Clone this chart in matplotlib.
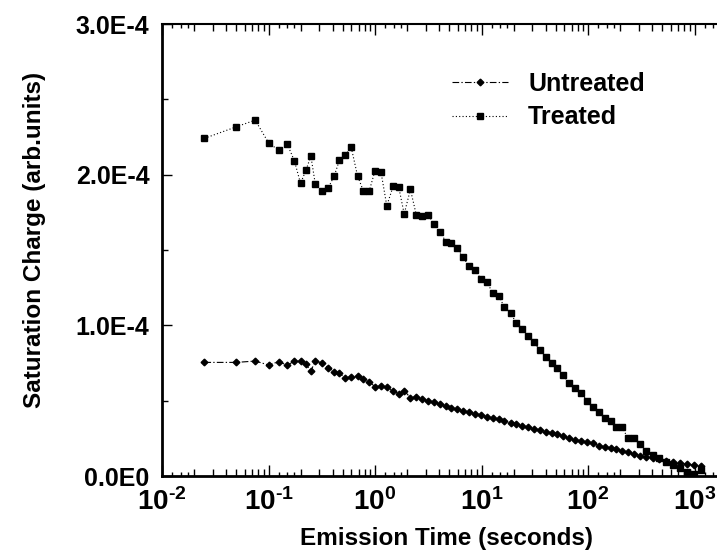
import numpy as np
import matplotlib
matplotlib.use("Agg")
import matplotlib.pyplot as plt
from matplotlib.ticker import FixedLocator, FixedFormatter, NullFormatter

# ---- data -------------------------------------------------------------
emission_time = [0.025, 0.05, 0.075, 0.1, 0.125, 0.15, 0.175, 0.2, 0.225, 0.25, 0.275,
                 0.315, 0.364, 0.414, 0.464, 0.522, 0.598, 0.685, 0.776, 0.884,
                 1.0, 1.14, 1.29, 1.48, 1.67, 1.88, 2.15, 2.44, 2.77, 3.15, 3.58, 4.08,
                 4.64, 5.17, 5.95, 6.66, 7.68, 8.69, 9.89,
                 11.3, 12.7, 14.6, 16.3, 18.8, 21.1, 24.2, 27.5, 31.1, 35.4, 40.1, 45.6,
                 50.8, 58.6, 66.3, 75.5, 86.0, 98.5,
                 111, 127, 144, 163, 183, 208, 238, 270, 310, 354, 405, 467, 540, 628,
                 731, 851, 990, 1150]

# saturation charge, in units of 1e-4
untreated = [0.754, 0.754, 0.763, 0.737, 0.759, 0.735, 0.763, 0.761, 0.741, 0.697, 0.763,
             0.752, 0.719, 0.692, 0.681, 0.652, 0.657, 0.666, 0.644, 0.624,
             0.593, 0.595, 0.590, 0.564, 0.546, 0.566, 0.520, 0.525, 0.510, 0.499, 0.489,
             0.478, 0.465, 0.453, 0.443, 0.431, 0.423, 0.413, 0.405,
             0.393, 0.385, 0.376, 0.365, 0.354, 0.345, 0.332, 0.323, 0.314, 0.305, 0.294,
             0.287, 0.279, 0.265, 0.250, 0.239, 0.232, 0.226,
             0.217, 0.201, 0.194, 0.184, 0.177, 0.168, 0.157, 0.146, 0.135, 0.128, 0.119,
             0.111, 0.100, 0.090, 0.085, 0.078, 0.072, 0.066]

treated = [2.241, 2.318, 2.362, 2.212, 2.161, 2.203, 2.092, 1.942, 2.031, 2.123, 1.938,
           1.893, 1.913, 1.991, 2.097, 2.128, 2.181, 1.993, 1.893, 1.893,
           2.026, 2.015, 1.794, 1.922, 1.918, 1.739, 1.902, 1.734, 1.723, 1.734, 1.672,
           1.619, 1.555, 1.546, 1.515, 1.451, 1.395, 1.365, 1.307,
           1.285, 1.216, 1.194, 1.123, 1.082, 1.017, 0.977, 0.929, 0.887, 0.836, 0.792,
           0.752, 0.719, 0.670, 0.615, 0.582, 0.549, 0.500,
           0.460, 0.427, 0.383, 0.367, 0.322, 0.322, 0.252, 0.252, 0.212, 0.165, 0.139,
           0.117, 0.095, 0.070, 0.050, 0.025, 0.010, 0.040]

charge_scale = 1e-4
y_ticks = [0.0, 1.0e-4, 2.0e-4, 3.0e-4]
y_tick_labels = ["0.0E0", "1.0E-4", "2.0E-4", "3.0E-4"]
x_decades = [-2, -1, 0, 1, 2, 3]

# ---- style ------------------------------------------------------------
plt.rcParams["font.family"] = ["Liberation Sans", "DejaVu Sans"]
plt.rcParams["font.weight"] = "bold"
plt.rcParams["mathtext.fontset"] = "custom"
plt.rcParams["mathtext.rm"] = "Liberation Sans:bold"
plt.rcParams["mathtext.it"] = "Liberation Sans:bold"
plt.rcParams["mathtext.bf"] = "Liberation Sans:bold"
plt.rcParams["mathtext.default"] = "rm"

fig = plt.figure(figsize=(7.17, 5.58), dpi=100)
W, H = 717, 558
ax_left, ax_right, ax_top, ax_bottom = 162, 717, 24, 476
ax = fig.add_axes([ax_left / W, 1 - ax_bottom / H,
                   (ax_right - ax_left) / W, (ax_bottom - ax_top) / H])

t = np.array(emission_time)
ax.plot(t, np.array(untreated) * charge_scale, color="black", lw=0.8,
        linestyle=(0, (6, 2, 1.2, 2)), marker="D", ms=3.4, mec="black", mfc="black",
        label="Untreated")
ax.plot(t, np.array(treated) * charge_scale, color="black", lw=0.8,
        linestyle=(0, (1, 2)), marker="s", ms=4.4, mec="black", mfc="black",
        label="Treated")

ax.set_xscale("log")
decade_px = 106.5
ax.set_xlim(1e-2, 10 ** (-2 + (ax_right - ax_left) / decade_px))
ax.set_ylim(0, 3.0e-4)

# x ticks: decades, 2..9 and the fine 1.25/1.5/1.75 subdivisions
major = [10.0 ** d for d in x_decades]
minor = [m * 10.0 ** d for d in x_decades for m in range(2, 10)]
fine = [m * 10.0 ** d for d in x_decades for m in (1.25, 1.5, 1.75)]
ax.xaxis.set_major_locator(FixedLocator(major))
ax.xaxis.set_major_formatter(
    FixedFormatter([r"$10^{\text{%d}}$" % d for d in x_decades]))
ax.xaxis.set_minor_locator(FixedLocator(minor))
ax.xaxis.set_minor_formatter(NullFormatter())
ax.tick_params(axis="x", which="major", direction="in", length=8, width=1.0,
               top=True, bottom=True, labelsize=20, pad=9)
ax.tick_params(axis="x", which="minor", direction="in", length=5, width=1.0,
               top=True, bottom=True)
for side in ("bottom", "top"):
    sec = ax.secondary_xaxis(side)
    sec.set_xscale("log")
    sec.xaxis.set_major_locator(FixedLocator(fine))
    sec.xaxis.set_major_formatter(NullFormatter())
    sec.xaxis.set_minor_locator(FixedLocator([]))
    sec.tick_params(axis="x", which="major", direction="in", length=3, width=1.0)
    for sp in sec.spines.values():
        sp.set_visible(False)

ax.yaxis.set_major_locator(FixedLocator(y_ticks))
ax.yaxis.set_major_formatter(FixedFormatter(y_tick_labels))
ax.yaxis.set_minor_locator(FixedLocator([0.5e-4, 1.5e-4, 2.5e-4]))
ax.tick_params(axis="y", which="major", direction="in", length=7, width=1.0,
               labelsize=18, pad=9)
ax.tick_params(axis="y", which="minor", direction="in", length=4, width=1.0)
for lbl in ax.get_yticklabels():
    lbl.set_fontweight("bold")

ax.spines["right"].set_visible(False)
ax.spines["left"].set_linewidth(2.0)
ax.spines["bottom"].set_linewidth(2.0)
ax.spines["top"].set_linewidth(1.5)

ax.set_xlabel("Emission Time (seconds)", fontsize=17.5, fontweight="bold")
ax.xaxis.set_label_coords((446 - ax_left) / (ax_right - ax_left),
                          -(527 - ax_bottom) / (ax_bottom - ax_top))
ax.set_ylabel("Saturation Charge (arb.units)", fontsize=17.5, fontweight="bold")
ax.yaxis.set_label_coords(-(ax_left - 46) / (ax_right - ax_left),
                          (ax_bottom - 240) / (ax_bottom - ax_top))

ax.legend(loc="upper left", bbox_to_anchor=(452 / W, 1 - 72 / H),
          bbox_transform=fig.transFigure, frameon=False, borderpad=0,
          borderaxespad=0, handlelength=2.25, handletextpad=0.8,
          labelspacing=0.37, numpoints=1,
          prop={"size": 18, "weight": "bold"})

fig.savefig("out.png", dpi=100)
